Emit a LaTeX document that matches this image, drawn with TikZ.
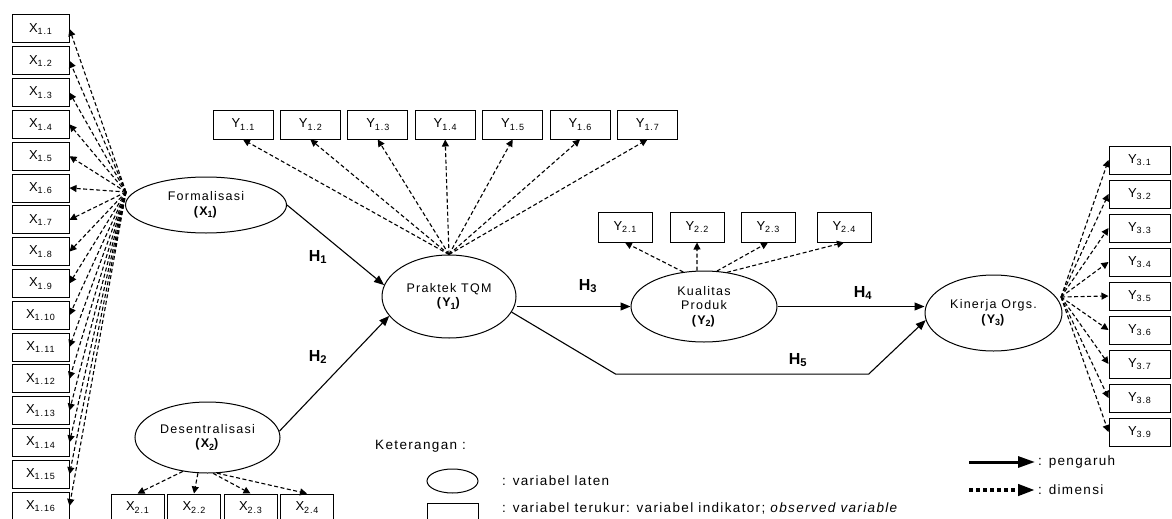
\documentclass[tikz,border=0pt]{standalone}
\usepackage{fontspec}
\setmainfont[LetterSpace=10]{Liberation Sans}
\usetikzlibrary{arrows.meta,positioning,calc,shapes.geometric}
\newcommand{\lowsub}[1]{\raisebox{-0.18em}{\fontsize{9}{9}\selectfont #1}}

\begin{document}
\begin{tikzpicture}[
  x=1pt, y=-1pt,
  indicator/.style={
    rectangle,
    draw=black,
    line width=1pt,
    minimum width=57pt,
    minimum height=28pt,
    inner sep=1pt,
    font=\fontsize{13}{15}\selectfont
  },
  latent/.style={
    ellipse,
    draw=black,
    line width=1pt,
    align=center,
    inner sep=1pt,
    font=\fontsize{12.5}{14.5}\selectfont
  },
  dimension/.style={-{Triangle[length=7pt,width=7pt]}, line width=1.1pt, dash pattern=on 4pt off 2.5pt},
  effect/.style={-{Triangle[length=10pt,width=8pt]}, line width=1.1pt},
  hlabel/.style={font=\fontsize{16}{18}\selectfont\bfseries},
  legend/.style={font=\fontsize{13.5}{15}\selectfont, anchor=west, inner sep=0pt},
  legendsolid/.style={-{Triangle[length=17pt,width=11pt]}, line width=3pt, shorten >=3pt},
  legenddash/.style={-{Triangle[length=17pt,width=11pt]}, line width=4pt, dash pattern=on 4pt off 3pt, shorten >=3pt}
]
\useasboundingbox (0,0) rectangle (1172,519);

% latent variables
\node[latent, minimum width=161pt, minimum height=56pt] (fm) at (206,205) {Formalisasi\\\textbf{(X\lowsub{1})}};
\node[latent, minimum width=145pt, minimum height=71pt] (ds) at (207.5,437.5) {Desentralisasi\\\textbf{(X\lowsub{2})}};
\node[latent, minimum width=134pt, minimum height=83pt] (tqm) at (449,296.5) {Praktek TQM\\\textbf{(Y\lowsub{1})}};
\node[latent, minimum width=146pt, minimum height=71pt] (kp) at (704,306.5) {Kualitas\\Produk\\\textbf{(Y\lowsub{2})}};
\node[latent, minimum width=137pt, minimum height=76pt] (kn) at (993.5,313) {Kinerja Orgs.\\\textbf{(Y\lowsub{3})}};

\coordinate (fmhub) at (126,192);
\coordinate (knhub) at (1061,297);

% indicators
\foreach \k in {1,...,16} {
  \node[indicator] (x1\k) at (40.5,{29+31.8*(\k-1)}) {X\lowsub{1.\k}};
  \draw[dimension] (fmhub) -- (x1\k.east);
}
\foreach \k/\ang in {1/-126,2/-105,3/-81,4/-75} {
  \node[indicator, minimum width=53pt, minimum height=27pt] (x2\k) at ({137.5+56.5*(\k-1)},507.5) {X\lowsub{2.\k}};
  \draw[dimension] (ds.\ang) -- (x2\k.north);
}
\foreach \k in {1,...,7} {
  \node[indicator, minimum width=60pt, minimum height=29pt] (y1\k) at ({243+67.4*(\k-1)},124.5) {Y\lowsub{1.\k}};
  \draw[dimension] (tqm.north) -- (y1\k.south);
}
\foreach \k/\px/\ang in {1/625/121,2/697/101,3/768/70,4/844/56} {
  \node[indicator, minimum width=54pt, minimum height=30pt] (y2\k) at (\px,227) {Y\lowsub{2.\k}};
  \draw[dimension] (kp.\ang) -- (y2\k.south);
}
\foreach \k in {1,...,9} {
  \node[indicator, minimum width=61pt, minimum height=28pt] (y3\k) at (1139.5,{160+34*(\k-1)}) {Y\lowsub{3.\k}};
  \draw[dimension] (knhub) -- (y3\k.west);
}

% hypotheses
\draw[effect] (fm.east) -- (tqm.170);
\draw[effect] (ds.5) -- (tqm.198);
\draw[effect] (tqm.east |- kp.west) -- (kp.west);
\draw[effect] (kp.east) -- (kp.east -| kn.west);
\draw[effect] (tqm.-14) -- ++(104,62) -- ++(253,0) -- (kn.186);

\node[hlabel] (h1) at (318,257) {H\textsubscript{1}};
\node[hlabel] (h2) at (318,357) {H\textsubscript{2}};
\node[hlabel] (h3) at (588,286) {H\textsubscript{3}};
\node[hlabel] (h4) at (863,293) {H\textsubscript{4}};
\node[hlabel] (h5) at (798,360) {H\textsubscript{5}};

% legend
\node[legend] (keterangan) at (375,446) {Keterangan :};
\node[latent, minimum width=51pt, minimum height=24pt] (lglaten) at (452.5,481) {};
\node[indicator, minimum width=51pt, minimum height=17pt] (lgterukur) at (452.5,511.5) {};
\node[legend] (txlaten) at (502,481) {: variabel laten};
\node[legend] (txterukur) at (502,508) {: variabel terukur: variabel indikator; \textit{observed variable}};
\coordinate (lgsolid) at (969,462);
\coordinate (lgdash) at (969,490);
\node[legend] (txpengaruh) at (1038,462) {: pengaruh};
\node[legend] (txdimensi) at (1038,490) {: dimensi};
\draw[legendsolid] (lgsolid) -- (txpengaruh.west);
\draw[legenddash] (lgdash) -- (txdimensi.west);

\end{tikzpicture}
\end{document}
